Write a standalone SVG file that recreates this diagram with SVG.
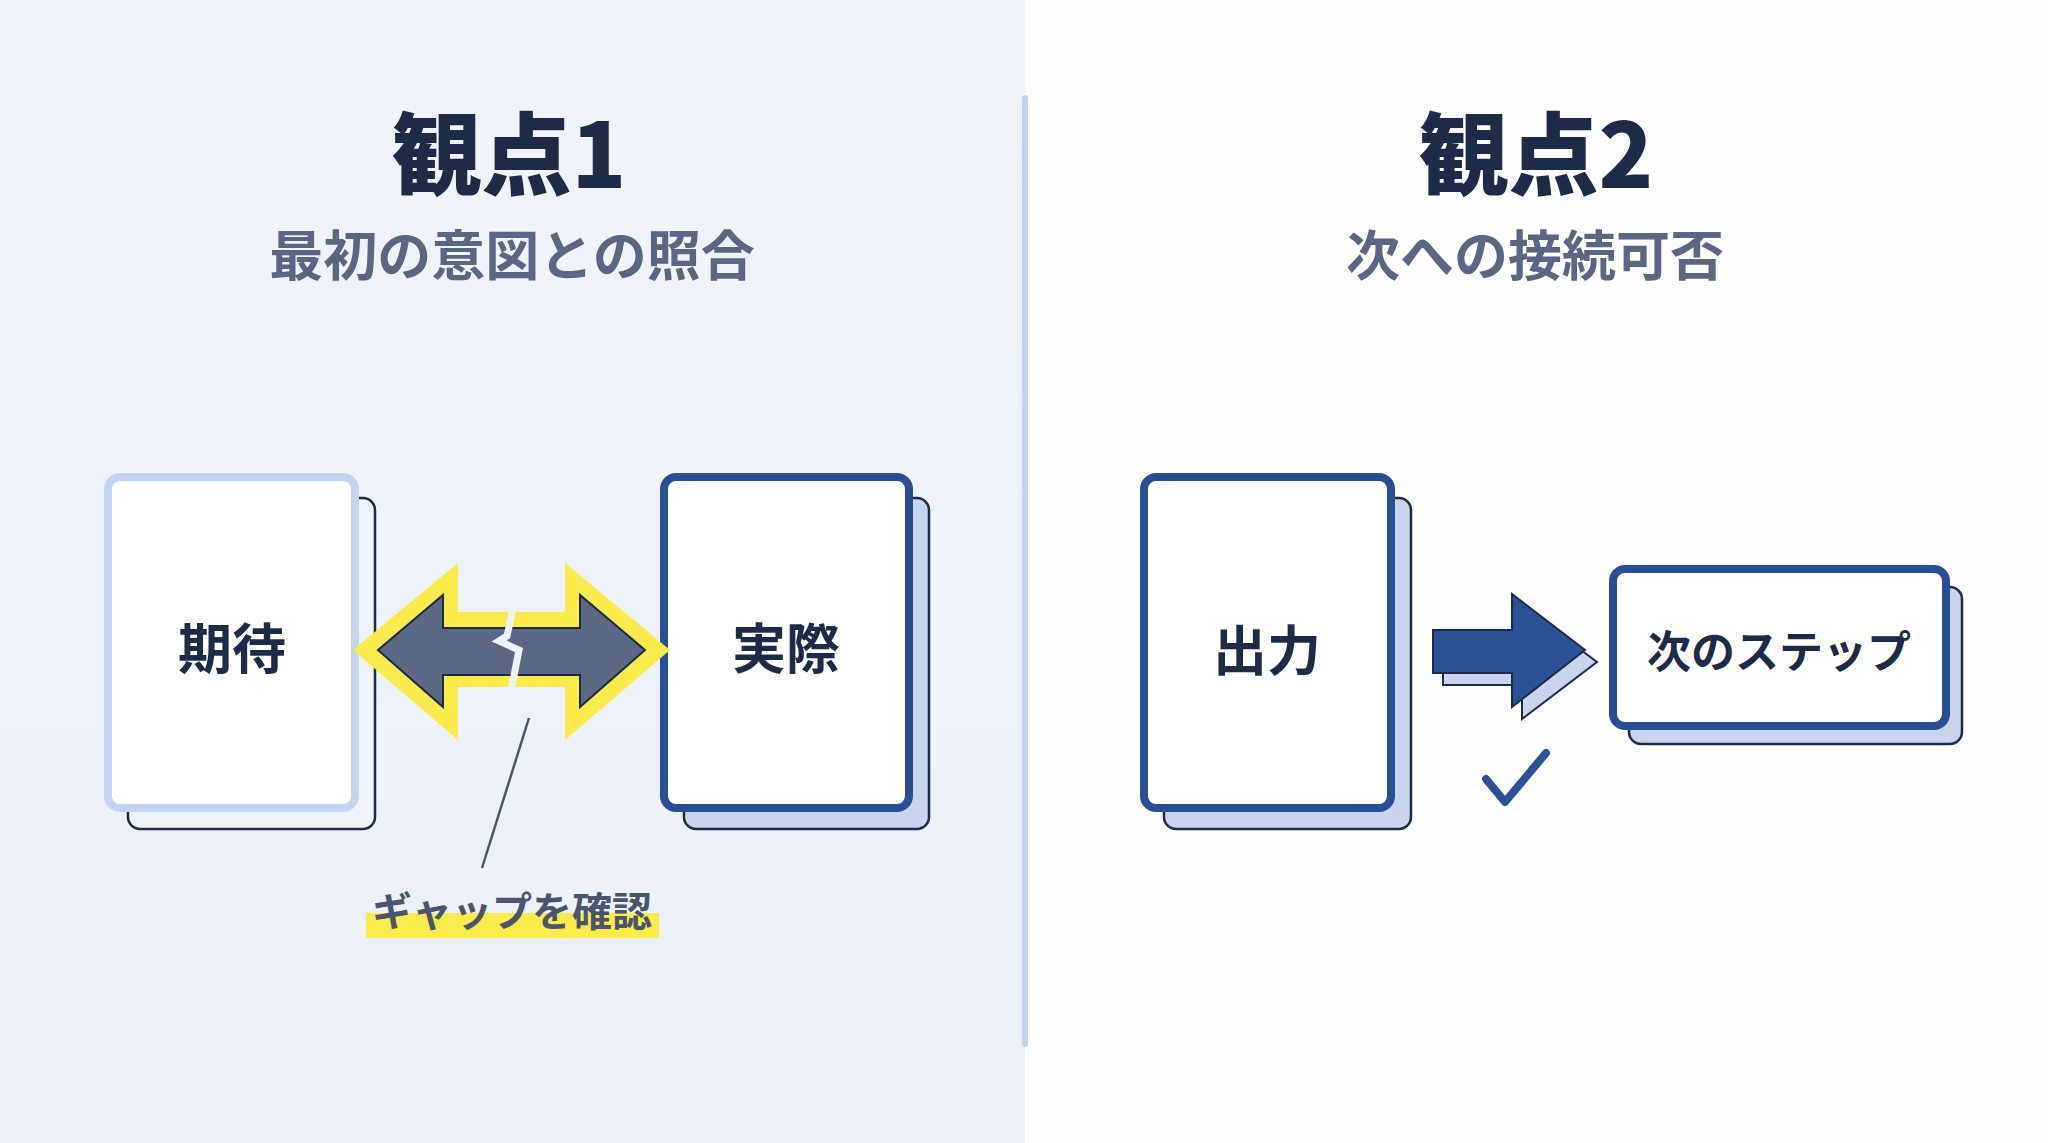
<svg xmlns="http://www.w3.org/2000/svg" width="2048" height="1143" viewBox="0 0 2048 1143">
<defs>
<style>
.t{font-family:"Noto Sans CJK JP","Noto Sans",sans-serif;text-anchor:middle;dominant-baseline:central}
.title{font-size:90px;font-weight:900;fill:#1E2B47}
.sub{font-size:54px;font-weight:700;fill:#5A6682}
.lbl{font-size:54px;font-weight:700;fill:#1E2B47}
.card{fill:#FFFFFF;stroke-width:8}
.shadow{stroke:#1E2B47;stroke-width:2.5}
</style>
<linearGradient id="lbg" x1="0" y1="0" x2="0" y2="1">
<stop offset="0" stop-color="#F0F3FA"/>
<stop offset="1" stop-color="#ECF1FA"/>
</linearGradient>
</defs>
<rect x="0" y="0" width="2048" height="1143" fill="#FDFDFE"/>
<rect x="0" y="0" width="1025" height="1143" fill="url(#lbg)"/>
<line x1="1025" y1="98" x2="1025" y2="1044" stroke="#C3D3EF" stroke-width="6" stroke-linecap="round"/>

<g id="header1">
<text class="t title" x="509" y="149">観点1</text>
<text class="t sub" x="512" y="252">最初の意図との照合</text>
</g>
<g id="header2">
<text class="t title" x="1536" y="149">観点2</text>
<text class="t sub" x="1535" y="252">次への接続可否</text>
</g>

<g id="node-kitai">
<rect class="shadow" x="128" y="498" width="247" height="331" rx="12" fill="#EEF2FA"/>
<rect class="card" x="108" y="477" width="247" height="331" rx="12" stroke="#C3D4F0"/>
<text class="t lbl" x="232" y="645">期待</text>
</g>
<g id="node-jissai">
<rect class="shadow" x="684" y="498" width="245" height="331" rx="12" fill="#C8D5EC"/>
<rect class="card" x="664" y="477" width="245" height="331" rx="12" stroke="#2A4E93"/>
<text class="t lbl" x="786" y="645">実際</text>
</g>
<g id="node-shutsuryoku">
<rect class="shadow" x="1164" y="498" width="247" height="331" rx="12" fill="#C8D5EC"/>
<rect class="card" x="1144" y="477" width="247" height="331" rx="12" stroke="#2A4E93"/>
<text class="t lbl" x="1267" y="647">出力</text>
</g>
<g id="node-next">
<rect class="shadow" x="1629" y="587" width="333" height="157" rx="12" fill="#C8D5EC"/>
<rect class="card" x="1613" y="569" width="333" height="157" rx="12" stroke="#2A4E93" stroke-width="7"/>
<text class="t" x="1779" y="649" style="font-size:44px;font-weight:700;fill:#1E2B47">次のステップ</text>
</g>

<g id="connectors">
<polygon points="353,650 458,563 458,612 565,612 565,563 670,650 565,740 565,687 458,687 458,740" fill="#FAEA4C"/>
<polygon points="378,650 443,595 443,628 580,628 580,595 645,650 580,707 580,675 443,675 443,707" fill="#5B6884" stroke="#1E2B47" stroke-width="2" stroke-linejoin="miter"/>
<polyline points="514,604 507,636 499,641 519,650 510,696" fill="none" stroke="#EEF2FA" stroke-width="7" stroke-linejoin="miter"/>
<line x1="529" y1="718" x2="482" y2="868" stroke="#4A5570" stroke-width="2.5"/>
<polygon points="1443,642 1522,642 1522,606 1597,662 1522,719 1522,685 1443,685" fill="#C8D5EC" stroke="#1E2B47" stroke-width="2"/>
<polygon points="1433,630 1512,630 1512,594 1585,650 1512,707 1512,673 1433,673" fill="#2B5296" stroke="#1E2B47" stroke-width="2"/>
<polyline points="1486,779 1505,802 1546,753" fill="none" stroke="#2B5296" stroke-width="8" stroke-linecap="round" stroke-linejoin="round"/>
</g>

<g id="label-gap">
<rect x="366" y="913" width="293" height="25" fill="#FCEB4A"/>
<text class="t" x="512" y="909" style="font-size:40px;font-weight:700;fill:#4A5570">ギャップを確認</text>
</g>
</svg>
